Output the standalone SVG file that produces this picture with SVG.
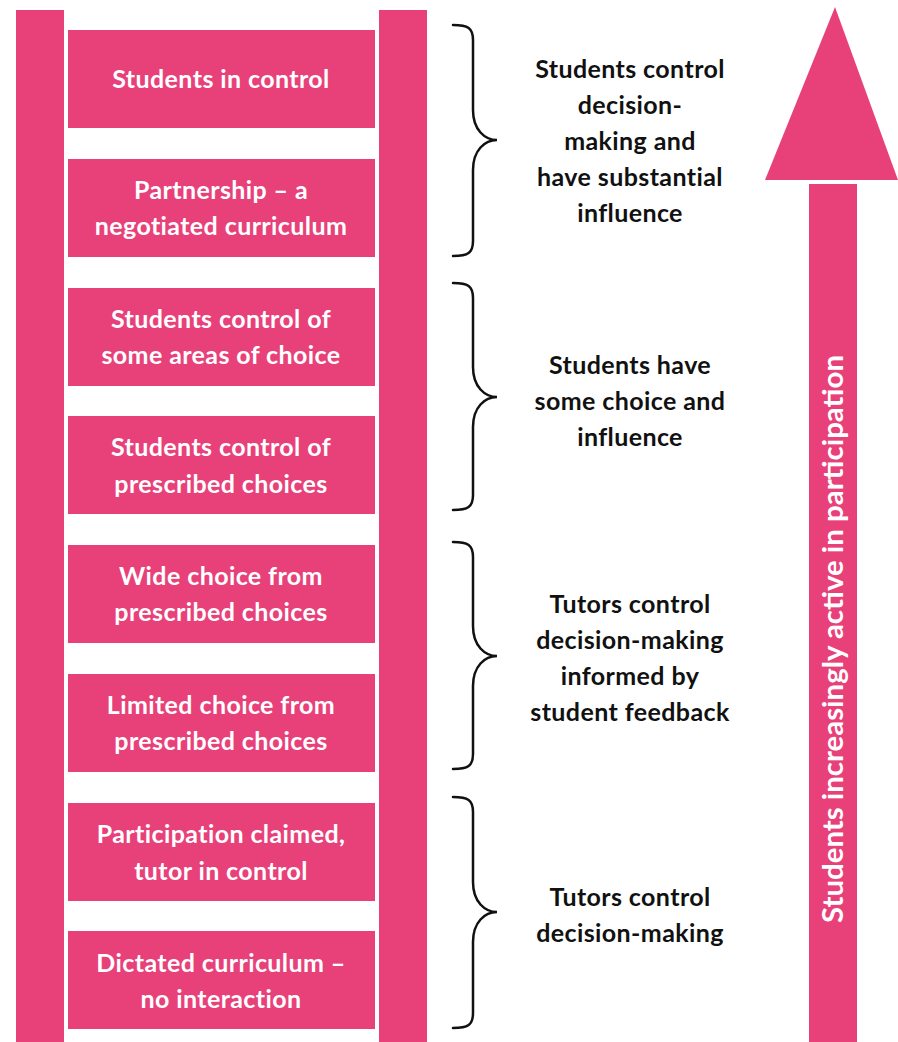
<svg xmlns="http://www.w3.org/2000/svg" width="898" height="1042" viewBox="0 0 898 1042">
<style>
.pink{fill:#E8417A}
.bt{font-family:Lato,"Open Sans","Liberation Sans",sans-serif;font-weight:bold;font-size:25px;letter-spacing:0.4px;fill:#fff;text-anchor:middle}
.lt{font-family:Lato,"Open Sans","Liberation Sans",sans-serif;font-weight:bold;font-size:25px;letter-spacing:0.4px;fill:#111;text-anchor:middle}
.br{fill:none;stroke:#111;stroke-width:2.5;stroke-linecap:round}
</style>
<rect width="898" height="1042" fill="#fff"/>
<g id="rails">
<rect class="pink" x="16" y="10" width="48" height="1032"/>
<rect class="pink" x="379" y="10" width="48" height="1032"/>
</g>
<g id="n1"><rect class="pink" x="68" y="30" width="307" height="98"/><text class="bt" x="221" y="88">Students in control</text></g>
<g id="n2"><rect class="pink" x="68" y="159" width="307" height="98"/><text class="bt" x="221" y="199">Partnership – a</text><text class="bt" x="221" y="235">negotiated curriculum</text></g>
<g id="n3"><rect class="pink" x="68" y="288" width="307" height="98"/><text class="bt" x="221" y="328">Students control of</text><text class="bt" x="221" y="364">some areas of choice</text></g>
<g id="n4"><rect class="pink" x="68" y="416" width="307" height="98"/><text class="bt" x="221" y="456">Students control of</text><text class="bt" x="221" y="493">prescribed choices</text></g>
<g id="n5"><rect class="pink" x="68" y="545" width="307" height="98"/><text class="bt" x="221" y="585">Wide choice from</text><text class="bt" x="221" y="621">prescribed choices</text></g>
<g id="n6"><rect class="pink" x="68" y="674" width="307" height="98"/><text class="bt" x="221" y="714">Limited choice from</text><text class="bt" x="221" y="750">prescribed choices</text></g>
<g id="n7"><rect class="pink" x="68" y="803" width="307" height="98"/><text class="bt" x="221" y="843">Participation claimed,</text><text class="bt" x="221" y="880">tutor in control</text></g>
<g id="n8"><rect class="pink" x="68" y="931" width="307" height="98"/><text class="bt" x="221" y="972">Dictated curriculum –</text><text class="bt" x="221" y="1008">no interaction</text></g>
<g id="braces">
<path class="br" d="M453,25 C468,25 473,28 473,40 L473,110 C473,130 485,140 497,140 C485,140 473,150 473,170 L473,241 C473,253 468,256 453,256"/>
<path class="br" d="M453,283 C468,283 473,286 473,298 L473,367 C473,387 485,397 497,397 C485,397 473,407 473,427 L473,495 C473,507 468,510 453,510"/>
<path class="br" d="M453,542 C468,542 473,545 473,557 L473,626 C473,646 485,656 497,656 C485,656 473,666 473,686 L473,754 C473,766 468,769 453,769"/>
<path class="br" d="M453,797 C468,797 473,800 473,812 L473,882 C473,902 485,912 497,912 C485,912 473,922 473,942 L473,1013 C473,1025 468,1028 453,1028"/>
</g>
<g id="labels">
<text class="lt" x="630" y="78">Students control</text>
<text class="lt" x="630" y="114">decision-</text>
<text class="lt" x="630" y="150">making and</text>
<text class="lt" x="630" y="186">have substantial</text>
<text class="lt" x="630" y="222">influence</text>
<text class="lt" x="630" y="374">Students have</text>
<text class="lt" x="630" y="410">some choice and</text>
<text class="lt" x="630" y="446">influence</text>
<text class="lt" x="630" y="613">Tutors control</text>
<text class="lt" x="630" y="649">decision-making</text>
<text class="lt" x="630" y="685">informed by</text>
<text class="lt" x="630" y="721">student feedback</text>
<text class="lt" x="630" y="906">Tutors control</text>
<text class="lt" x="630" y="942">decision-making</text>
</g>
<g id="arrow">
<polygon class="pink" points="835,7 898,180 765,180"/>
<rect class="pink" x="809" y="184" width="48" height="858"/>
<text class="bt" style="font-size:29px;letter-spacing:0" textLength="568" lengthAdjust="spacingAndGlyphs" transform="translate(843,639) rotate(-90)">Students increasingly active in participation</text>
</g>
</svg>
